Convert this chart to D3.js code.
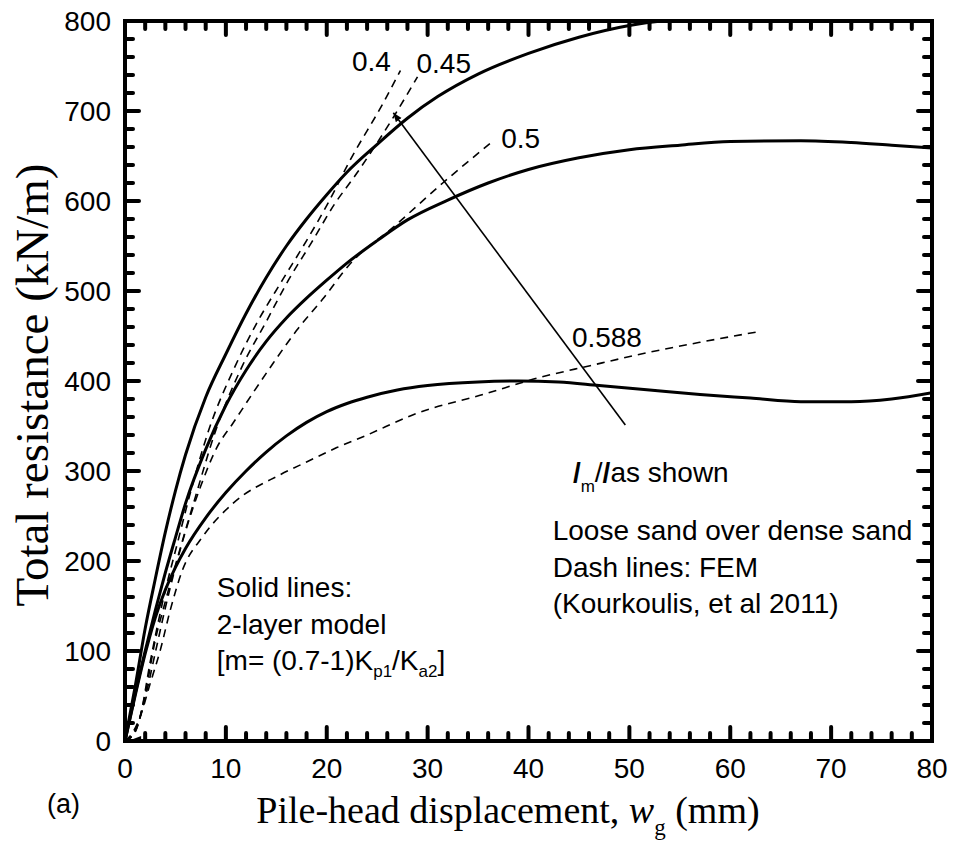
<!DOCTYPE html>
<html lang="en">
<head>
    <meta charset="utf-8">
    <title>Total resistance vs pile-head displacement</title>
    <script type="text/javascript" src="https://cdn.jsdelivr.net/npm/d3@7"></script>
    <style type="text/css">
        body { margin: 0; background: #fff; }
        svg { display: block; }
        .sans { font-family: "Liberation Sans", Arial, sans-serif; }
        .serif { font-family: "Liberation Serif", "Times New Roman", serif; }
    </style>
</head>
<body>
    <script type="text/javascript">
        // Width and height
        var w = 954;
        var h = 843;

        // Tick labels
        var xTicks = [0, 10, 20, 30, 40, 50, 60, 70, 80];
        var yTicks = [0, 100, 200, 300, 400, 500, 600, 700, 800];

        // Solid lines: 2-layer model [x = displacement (mm), y = resistance (kN/m)]
        var solid040 = [[0,0],[1,60],[2,125],[3,180],[4,232],[5,278],[6,318],[8,382],[10,430],[12,475],[14,515],[16,550],[18,580],[20,607],[22,632],[25,663],[28,692],[31,716],[35,741],[40,764],[45,782],[50,795],[54,801]];
        var solid050 = [[0,0],[1,52],[2,100],[3,145],[4,187],[5,226],[6,264],[8,324],[10,373],[12,412],[14,444],[16,470],[18,492],[20,512],[22,531],[25,556],[28,579],[32,601],[36,620],[40,635],[45,648],[50,657],[55,662],[60,666],[67,667],[72,665],[76,662],[80,659]];
        var solid0588 = [[0,0],[1,50],[2,97],[3,137],[4,168],[5,193],[6,214],[8,248],[10,276],[12,300],[14,321],[16,339],[18,354],[20,366],[22,375],[24,382],[27,390],[30,395],[35,399],[39,400],[43,399],[47,395],[52,390],[57,385],[62,381],[67,377],[72,377],[76,380],[80,387]];

        // Dash lines: FEM (Kourkoulis et al 2011)
        var fem040 = [[0,0],[1,12],[1.5,27],[2.5,88],[3.8,158],[5.2,220],[6.7,285],[8.2,342],[10.9,416],[13,463],[15.6,512],[18,556],[20.1,597],[22.3,645],[25.6,709],[27.3,745]];
        var fem045 = [[0,0],[1,10],[2,52],[3,112],[4,155],[5.5,215],[7,272],[8.9,342],[11.6,416],[14,466],[16.2,512],[18.5,554],[20.8,597],[22.8,628],[26.6,693],[29,738]];
        var fem050 = [[0,0],[1,10],[2,48],[3,98],[4,148],[5,193],[6,233],[7.5,283],[9.1,326],[10.7,353],[12.7,387],[14.7,420],[17,456],[19.6,491],[22.3,530],[26.6,571],[31.5,620],[36.2,664]];
        var fem0588 = [[0,0],[0.8,10],[1.5,27],[2.5,64],[3.5,101],[4.5,146],[5.7,190],[7.7,227],[10.7,264],[15.4,296],[18,310],[21,326],[23.8,339],[28.9,364],[35.5,385],[40.8,403],[46.1,417],[52,432],[57,443],[62.9,455]];

        // Curve labels (value, anchor in data units)
        var curveLabels = [
            { text: "0.4", at: [22.5, 745] },
            { text: "0.45", at: [28.9, 742] },
            { text: "0.5", at: [37.3, 659] },
            { text: "0.588", at: [44.3, 438] }
        ];

        // Trend arrow (tail, head) in data units
        var trendArrow = [[49.6, 351], [26.6, 698]];

        // Scales
        var x = d3.scaleLinear().domain([0, 80]).range([125, 932]);
        var y = d3.scaleLinear().domain([0, 800]).range([741, 21]);

        var svg = d3.select("body")
            .append("svg")
            .attr("width", w)
            .attr("height", h);

        var defs = svg.append("defs");
        defs.append("clipPath")
            .attr("id", "plotClip")
            .append("rect")
            .attr("x", x(0)).attr("y", y(800))
            .attr("width", x(80) - x(0)).attr("height", y(0) - y(800));

        defs.append("marker")
            .attr("id", "head")
            .attr("viewBox", "0 0 10 10")
            .attr("refX", 10).attr("refY", 5)
            .attr("markerWidth", 9).attr("markerHeight", 9)
            .attr("markerUnits", "userSpaceOnUse")
            .attr("orient", "auto")
            .append("path")
            .attr("d", "M0,1 L10,5 L0,9 Z")
            .attr("fill", "#000");

        // Tick labels
        svg.append("g").selectAll("text")
            .data(xTicks)
            .enter()
            .append("text")
            .attr("class", "sans")
            .attr("x", function(d) { return x(d); })
            .attr("y", 778)
            .attr("text-anchor", "middle")
            .style("font-size", "28px")
            .text(function(d) { return d; });

        svg.append("g").selectAll("text")
            .data(yTicks)
            .enter()
            .append("text")
            .attr("class", "sans")
            .attr("x", 111)
            .attr("y", function(d) { return y(d) + 10; })
            .attr("text-anchor", "end")
            .style("font-size", "28px")
            .text(function(d) { return d; });

        // Curves
        var line = d3.line()
            .x(function(d) { return x(d[0]); })
            .y(function(d) { return y(d[1]); })
            .curve(d3.curveMonotoneX);

        var plot = svg.append("g").attr("clip-path", "url(#plotClip)");

        plot.selectAll("path.solid")
            .data([solid040, solid050, solid0588])
            .enter()
            .append("path")
            .attr("class", "solid")
            .attr("d", line)
            .style("fill", "none").attr("stroke", "#000").attr("stroke-width", 3);

        plot.selectAll("path.fem")
            .data([fem040, fem045, fem050, fem0588])
            .enter()
            .append("path")
            .attr("class", "fem")
            .attr("d", line)
            .style("fill", "none").attr("stroke", "#000").attr("stroke-width", 1.6)
            .attr("stroke-dasharray", "8,6");

        // small arrow at the origin
        plot.append("path")
            .attr("d", "M" + x(0.3) + "," + y(0) + "L" + x(1.6) + "," + (y(0) - 5) + "L" + x(1.6) + "," + (y(0) + 5) + "Z")
            .attr("fill", "#000");

        // Trend arrow
        svg.append("line")
            .attr("x1", x(trendArrow[0][0])).attr("y1", y(trendArrow[0][1]))
            .attr("x2", x(trendArrow[1][0])).attr("y2", y(trendArrow[1][1]))
            .attr("stroke", "#000").attr("stroke-width", 1.6)
            .attr("marker-end", "url(#head)");

        // Curve labels
        svg.selectAll("text.clabel")
            .data(curveLabels)
            .enter()
            .append("text")
            .attr("class", "clabel sans")
            .attr("x", function(d) { return x(d.at[0]); })
            .attr("y", function(d) { return y(d.at[1]); })
            .style("font-size", "28px")
            .text(function(d) { return d.text; });

        // "/m/ /as shown"
        var lam = svg.append("text").attr("class", "sans")
            .attr("x", x(44.4)).attr("y", y(288))
            .style("font-size", "28px");
        lam.append("tspan").style("font-weight", "bold").text("/");
        lam.append("tspan").attr("dy", 10).style("font-size", "17px").text("m");
        lam.append("tspan").attr("dy", -10).text("/");
        lam.append("tspan").style("font-weight", "bold").text("/");
        lam.append("tspan").text("as shown");

        // Text blocks
        var block1 = ["Loose sand over dense sand", "Dash lines: FEM", "(Kourkoulis, et al 2011)"];
        svg.append("g").selectAll("text")
            .data(block1)
            .enter()
            .append("text")
            .attr("class", "sans")
            .attr("x", x(42.4))
            .attr("y", function(d, i) { return y(223) + i * 36.5; })
            .style("font-size", "28px")
            .text(function(d) { return d; });

        var block2 = ["Solid lines:", "2-layer model"];
        svg.append("g").selectAll("text")
            .data(block2)
            .enter()
            .append("text")
            .attr("class", "sans")
            .attr("x", x(9.1))
            .attr("y", function(d, i) { return y(160) + i * 36.5; })
            .style("font-size", "28px")
            .text(function(d) { return d; });

        var mText = svg.append("text").attr("class", "sans")
            .attr("x", x(9.1)).attr("y", y(160) + 73)
            .style("font-size", "28px");
        mText.append("tspan").text("[m= (0.7-1)K");
        mText.append("tspan").attr("dy", 7).style("font-size", "17px").text("p1");
        mText.append("tspan").attr("dy", -7).text("/K");
        mText.append("tspan").attr("dy", 7).style("font-size", "17px").text("a2");
        mText.append("tspan").attr("dy", -7).text("]");

        // Panel tag
        svg.append("text").attr("class", "sans")
            .attr("x", 47).attr("y", 813)
            .style("font-size", "27px")
            .text("(a)");

        // Axis titles
        var xt = svg.append("text").attr("class", "serif")
            .attr("x", 508).attr("y", 823)
            .attr("text-anchor", "middle")
            .style("font-size", "38px");
        xt.append("tspan").text("Pile-head displacement, ");
        xt.append("tspan").style("font-style", "italic").text("w");
        xt.append("tspan").attr("dy", 12).style("font-size", "23px").text("g");
        xt.append("tspan").attr("dy", -12).text(" (mm)");

        svg.append("text").attr("class", "serif")
            .attr("transform", "translate(48,385) rotate(-90)")
            .attr("text-anchor", "middle")
            .style("font-size", "47px")
            .text("Total resistance (kN/m)");

        // Frame and inward ticks on all four sides, drawn last so they sit on top
        var xMinor = d3.range(0, 81, 2).filter(function(d) { return d % 10 !== 0; });
        var yMinor = d3.range(0, 801, 20).filter(function(d) { return d % 100 !== 0; });

        var xTickData = xTicks.map(function(d) { return { v: d, len: 14 }; })
            .concat(xMinor.map(function(d) { return { v: d, len: 8 }; }));
        var yTickData = yTicks.map(function(d) { return { v: d, len: 14 }; })
            .concat(yMinor.map(function(d) { return { v: d, len: 8 }; }));

        var axisG = svg.append("g")
            .attr("stroke", "#000")
            .attr("stroke-width", 4)
            .attr("stroke-linecap", "round")
            .style("fill", "none");

        axisG.append("path")
            .attr("d", "M" + x(0) + "," + y(0) + "H" + x(80) + "V" + y(800) + "H" + x(0) + "Z")
            .attr("stroke-linecap", "square");

        axisG.selectAll("line.xb").data(xTickData).enter().append("line").attr("class", "xb")
            .attr("x1", function(d) { return x(d.v); }).attr("x2", function(d) { return x(d.v); })
            .attr("y1", y(0)).attr("y2", function(d) { return y(0) - d.len; });
        axisG.selectAll("line.xt").data(xTickData).enter().append("line").attr("class", "xt")
            .attr("x1", function(d) { return x(d.v); }).attr("x2", function(d) { return x(d.v); })
            .attr("y1", y(800)).attr("y2", function(d) { return y(800) + d.len; });
        axisG.selectAll("line.yl").data(yTickData).enter().append("line").attr("class", "yl")
            .attr("y1", function(d) { return y(d.v); }).attr("y2", function(d) { return y(d.v); })
            .attr("x1", x(0)).attr("x2", function(d) { return x(0) + d.len; });
        axisG.selectAll("line.yr").data(yTickData).enter().append("line").attr("class", "yr")
            .attr("y1", function(d) { return y(d.v); }).attr("y2", function(d) { return y(d.v); })
            .attr("x1", x(80)).attr("x2", function(d) { return x(80) - d.len; });
    </script>
</body>
</html>
